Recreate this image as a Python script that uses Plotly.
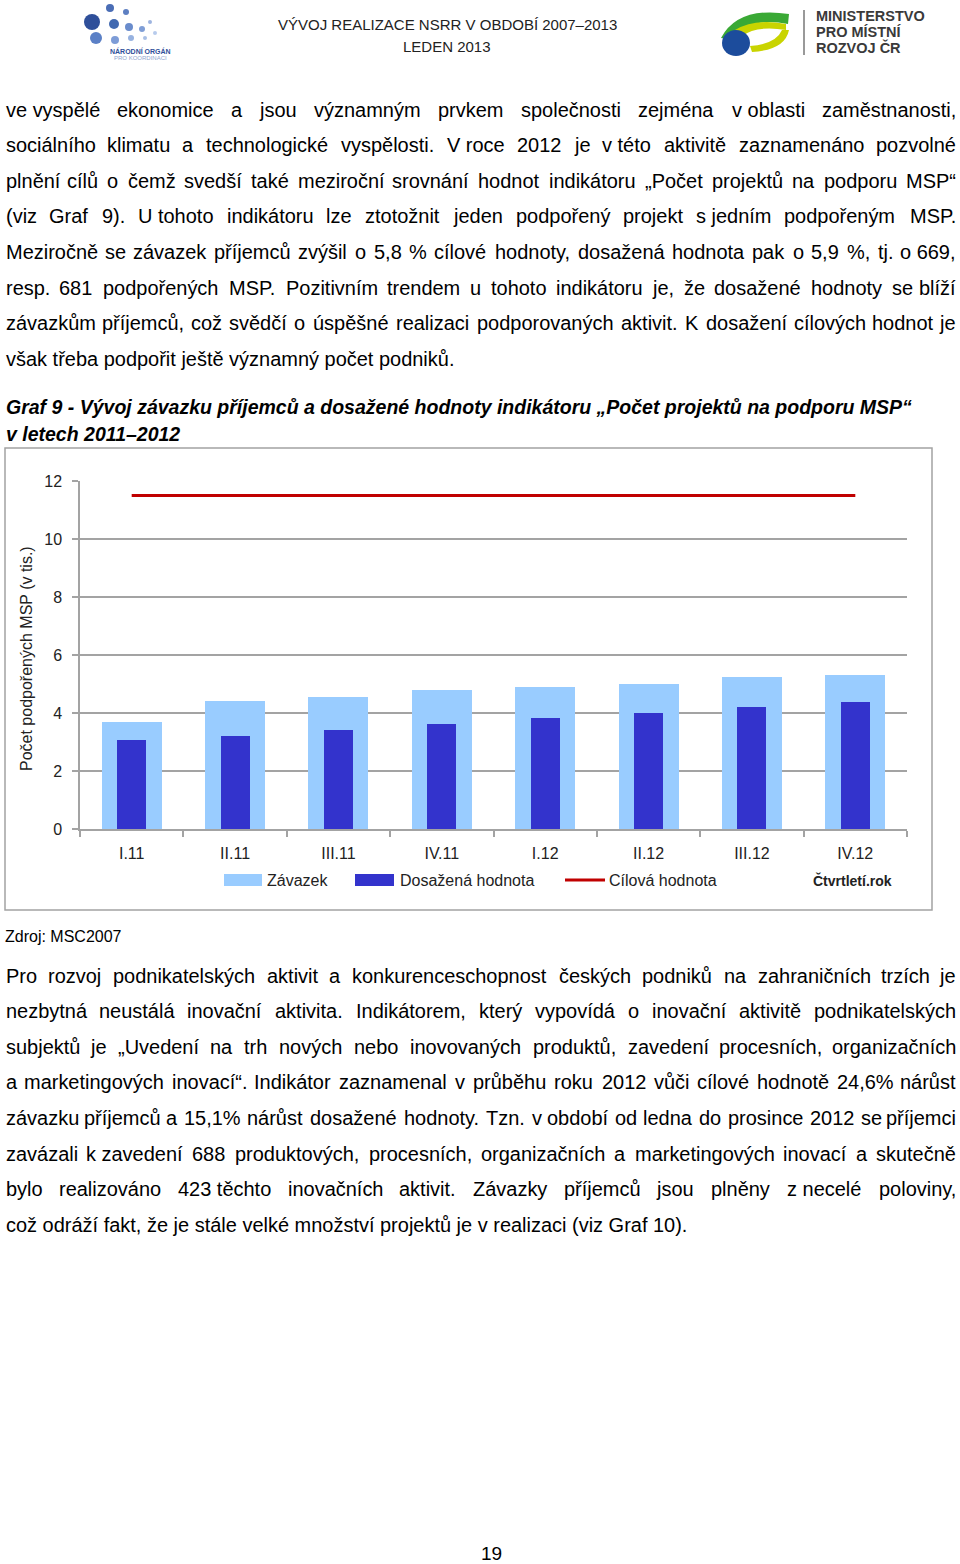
import unicodedata
import plotly.graph_objects as go

# ---------------- data ----------------
kategorie = ["I.11", "II.11", "III.11", "IV.11", "I.12", "II.12", "III.12", "IV.12"]
zavazek = [3.71, 4.41, 4.57, 4.79, 4.91, 5.02, 5.25, 5.33]
dosazena = [3.06, 3.23, 3.42, 3.63, 3.84, 4.02, 4.23, 4.38]
cilova = [11.5, 11.5, 11.5, 11.5, 11.5, 11.5, 11.5, 11.5]
y_ticks = [0, 2, 4, 6, 8, 10, 12]
nazvy_rad = ["Závazek", "Dosažená hodnota", "Cílová hodnota"]

odstavec1 = [
    "ve\u00a0vyspělé ekonomice a jsou významným prvkem společnosti zejména v\u00a0oblasti zaměstnanosti,",
    "sociálního klimatu a technologické vyspělosti. V\u00a0roce 2012 je v\u00a0této aktivitě zaznamenáno pozvolné",
    "plnění cílů o čemž svedší také meziroční srovnání hodnot indikátoru „Počet projektů na podporu MSP“",
    "(viz Graf 9). U\u00a0tohoto indikátoru lze ztotožnit jeden podpořený projekt s\u00a0jedním podpořeným MSP.",
    "Meziročně se závazek příjemců zvýšil o 5,8 % cílové hodnoty, dosažená hodnota pak o 5,9 %, tj. o\u00a0669,",
    "resp. 681 podpořených MSP. Pozitivním trendem u tohoto indikátoru je, že dosažené hodnoty se blíží",
    "závazkům příjemců, což svědčí o úspěšné realizaci podporovaných aktivit. K dosažení cílových hodnot je",
    "však třeba podpořit ještě významný počet podniků.",
]
odstavec2 = [
    "Pro rozvoj podnikatelských aktivit a konkurenceschopnost českých podniků na zahraničních trzích je",
    "nezbytná neustálá inovační aktivita. Indikátorem, který vypovídá o inovační aktivitě podnikatelských",
    "subjektů je „Uvedení na trh nových nebo inovovaných produktů, zavedení procesních, organizačních",
    "a marketingových inovací“. Indikátor zaznamenal v průběhu roku 2012 vůči cílové hodnotě 24,6% nárůst",
    "závazku příjemců a 15,1% nárůst dosažené hodnoty. Tzn. v období od ledna do prosince 2012 se příjemci",
    "zavázali k\u00a0zavedení 688 produktových, procesních, organizačních a marketingových inovací a skutečně",
    "bylo realizováno 423\u00a0těchto inovačních aktivit. Závazky příjemců jsou plněny z\u00a0necelé poloviny,",
    "což odráží fakt, že je stále velké množství projektů je v realizaci (viz Graf 10).",
]

# ---------------- page geometry helpers ----------------
W, H = 960, 1564
FONT = "Liberation Sans, Arial, sans-serif"


def px(x):
    return x / W


def py(y):
    return 1 - y / H


# Arial / Liberation Sans advance widths (per 1000 em)
AW = {' ': 278, '\u00a0': 278, 'a': 556, 'b': 556, 'c': 500, 'd': 556, 'e': 556, 'f': 278, 'g': 556,
      'h': 556, 'i': 222, 'j': 222, 'k': 500, 'l': 222, 'm': 833, 'n': 556, 'o': 556, 'p': 556,
      'q': 556, 'r': 333, 's': 500, 't': 278, 'u': 556, 'v': 500, 'w': 722, 'x': 500, 'y': 500,
      'z': 500, '.': 278, ',': 278, '(': 333, ')': 333, '%': 889, '„': 333, '“': 333, ':': 278,
      '-': 333, '–': 556, 'A': 667, 'B': 667, 'C': 722, 'D': 722, 'E': 667, 'F': 611, 'G': 778,
      'H': 722, 'I': 278, 'J': 500, 'K': 667, 'L': 556, 'M': 833, 'N': 722, 'O': 778, 'P': 667,
      'Q': 778, 'R': 722, 'S': 667, 'T': 611, 'U': 722, 'V': 667, 'W': 944, 'X': 667, 'Y': 667,
      'Z': 611}


def em_width(s):
    tot = 0
    for ch in s:
        if ch.isdigit():
            tot += 556
            continue
        base = unicodedata.normalize('NFD', ch)[0]
        tot += AW.get(base, 556)
    return tot / 1000.0


LEFT, RIGHT = 5, 957
annotations = []
shapes = []


def text(x, y, s, size, anchor="left", color="#000000", bold=False, italic=False, angle=0):
    t = s
    if bold:
        t = "<b>" + t + "</b>"
    if italic:
        t = "<i>" + t + "</i>"
    annotations.append(dict(x=px(x), y=py(y), xref="paper", yref="paper", text=t, showarrow=False,
                            xanchor=anchor, yanchor="middle", borderpad=0, textangle=angle,
                            font=dict(family=FONT, size=size, color=color)))


# body font size so that every justified line fits
all_just = odstavec1[:-1] + odstavec2[:-1]
fs_body = 20.0
for ln in all_just:
    nat = em_width(ln)
    nwords = len(ln.split(' '))
    need = (RIGHT - LEFT) / (nat + 0.05 * (nwords - 1))
    fs_body = min(fs_body, need)


def line(s, y, justify=True, size=None):
    size = size or fs_body
    words = s.split(' ')
    if not justify or len(words) == 1:
        text(LEFT, y, s, size)
        return
    widths = [em_width(w) * size for w in words]
    gap = (RIGHT - LEFT - sum(widths)) / (len(words) - 1)
    x = LEFT
    for i, (w, wd) in enumerate(zip(words, widths)):
        if i == 0:
            text(LEFT, y, w, size, "left")
        elif i == len(words) - 1:
            text(RIGHT, y, w, size, "right")
        else:
            text(x + wd / 2, y, w, size, "center")
        x += wd + gap


# ---------------- header ----------------
text(447, 24, "VÝVOJ REALIZACE NSRR V OBDOBÍ 2007–2013", 15, "center", "#222222")
text(447, 47, "LEDEN 2013", 15, "center", "#222222")

# left logo (dots)
dots = [(92, 22, 8, "#2f4f9a"), (110, 8, 4, "#4a6db5"), (126, 12, 3, "#5d7fc2"),
        (114, 24, 5, "#4169b0"), (129, 27, 4, "#6a8ccc"), (142, 29, 3, "#7f9ed6"),
        (96, 38, 6, "#5b80c6"), (115, 40, 4, "#7d9cd7"), (131, 38, 3, "#97b2e0"),
        (145, 38, 2, "#a9c0e6"), (155, 33, 2, "#b7cbec"), (150, 22, 2, "#9db4e0")]
for (cx, cy, r, c) in dots:
    shapes.append(dict(type="circle", xref="paper", yref="paper", x0=px(cx - r), x1=px(cx + r),
                       y0=py(cy + r), y1=py(cy - r), fillcolor=c, line=dict(width=0)))
text(140, 51, "NÁRODNÍ ORGÁN", 7, "center", "#2f4f9a", bold=True)
text(140, 58, "PRO KOORDINACI", 6, "center", "#8fa6cf")

# right logo (MMR)
shapes.append(dict(type="path", xref="paper", yref="paper",
                   path="M {0},{1} Q {2},{3} {4},{5} L {6},{7} Q {8},{9} {10},{11} Z".format(
                       px(721), py(38), px(738), py(6), px(789), py(14), px(788), py(24),
                       px(748), py(16), px(733), py(40)),
                   fillcolor="#3aa935", line=dict(width=0)))
shapes.append(dict(type="path", xref="paper", yref="paper",
                   path="M {0},{1} Q {2},{3} {4},{5} L {6},{7} Q {8},{9} {10},{11} Z".format(
                       px(735), py(30), px(755), py(18), px(786), py(24), px(786), py(30),
                       px(757), py(25), px(742), py(36)),
                   fillcolor="#c9d400", line=dict(width=0)))
shapes.append(dict(type="circle", xref="paper", yref="paper", x0=px(722), x1=px(750),
                   y0=py(56), y1=py(30), fillcolor="#1c4c9c", line=dict(width=0)))
shapes.append(dict(type="path", xref="paper", yref="paper",
                   path="M {0},{1} Q {2},{3} {4},{5} L {6},{7} Q {8},{9} {10},{11} Z".format(
                       px(752), py(52), px(785), py(50), px(789), py(30), px(782), py(30),
                       px(776), py(44), px(750), py(46)),
                   fillcolor="#c9d400", line=dict(width=0)))
shapes.append(dict(type="line", xref="paper", yref="paper", x0=px(804), x1=px(804), y0=py(10),
                   y1=py(55), line=dict(color="#555555", width=1.2)))
text(815, 16, "MINISTERSTVO", 14.5, "left", "#3a3a3a", bold=True)
text(815, 32, "PRO MÍSTNÍ", 14.5, "left", "#3a3a3a", bold=True)
text(815, 48, "ROZVOJ ČR", 14.5, "left", "#3a3a3a", bold=True)

# ---------------- body text ----------------
y1 = [110, 145, 181, 216, 252, 288, 323, 359]
for i, s in enumerate(odstavec1):
    line(s, y1[i], justify=(i < len(odstavec1) - 1))

text(LEFT, 407, "Graf 9 - Vývoj závazku příjemců a dosažené hodnoty indikátoru „Počet projektů na podporu MSP“",
     19.5, "left", "#000000", bold=True, italic=True)
text(LEFT, 434, "v letech 2011–2012", 19.5, "left", "#000000", bold=True, italic=True)

text(4, 936, "Zdroj: MSC2007", 16, "left")

y2 = [976, 1011, 1047, 1082, 1118, 1154, 1189, 1225]
for i, s in enumerate(odstavec2):
    line(s, y2[i], justify=(i < len(odstavec2) - 1))

text(492, 1553, "19", 19, "center")

# ---------------- chart ----------------
GRID = "#a3a3a3"
shapes.append(dict(type="rect", xref="paper", yref="paper", x0=px(5), x1=px(932), y0=py(910),
                   y1=py(448), line=dict(color=GRID, width=1.5), fillcolor="rgba(0,0,0,0)",
                   layer="below"))

fig = go.Figure()
fig.add_trace(go.Bar(x=kategorie, y=zavazek, name=nazvy_rad[0],
                     marker=dict(color="#99ccff", line=dict(width=0)), width=0.58, showlegend=False))
fig.add_trace(go.Bar(x=kategorie, y=dosazena, name=nazvy_rad[1],
                     marker=dict(color="#3333cc", line=dict(width=0)), width=0.28, showlegend=False))
fig.add_trace(go.Scatter(x=kategorie, y=cilova, name=nazvy_rad[2], mode="lines",
                         line=dict(color="#c00000", width=3), showlegend=False))

# y-axis title & x-axis title
text(27, 659, "Počet podpořených MSP (v tis.)", 16, "center", "#222222", angle=-90)
text(852, 880, "Čtvrtletí.rok", 14, "center", "#222222", bold=True)

# manual legend
shapes.append(dict(type="rect", xref="paper", yref="paper", x0=px(224), x1=px(262), y0=py(886),
                   y1=py(874), fillcolor="#99ccff", line=dict(width=0)))
text(266, 880, nazvy_rad[0], 16, "left", "#222222")
shapes.append(dict(type="rect", xref="paper", yref="paper", x0=px(355), x1=px(394), y0=py(886),
                   y1=py(874), fillcolor="#3333cc", line=dict(width=0)))
text(399, 880, nazvy_rad[1], 16, "left", "#222222")
shapes.append(dict(type="line", xref="paper", yref="paper", x0=px(565), x1=px(605), y0=py(880),
                   y1=py(880), line=dict(color="#c00000", width=3)))
text(608, 880, nazvy_rad[2], 16, "left", "#222222")

fig.update_layout(
    width=W, height=H, autosize=False,
    margin=dict(l=0, r=0, t=0, b=0, pad=0),
    paper_bgcolor="white", plot_bgcolor="white",
    barmode="overlay", bargap=0,
    annotations=annotations, shapes=shapes,
    font=dict(family=FONT, size=16, color="#222222"),
    xaxis=dict(domain=[px(80), px(907)], type="category", showgrid=False, showline=True,
               linecolor=GRID, linewidth=1.5, ticks="outside", tickson="boundaries", ticklen=6,
               tickcolor=GRID, tickwidth=1.5, tickfont=dict(size=16, color="#222222"),
               ticklabelstandoff=9, fixedrange=True, zeroline=False, automargin=False),
    yaxis=dict(domain=[py(829.3), py(481)], range=[0, 12], tickvals=y_ticks, showgrid=True,
               gridcolor=GRID, gridwidth=1.5, showline=True, linecolor=GRID, linewidth=1.5,
               ticks="outside", ticklen=6, tickcolor=GRID, tickwidth=1.5,
               tickfont=dict(size=16, color="#222222"), ticklabelstandoff=7, zeroline=False,
               fixedrange=True, automargin=False),
)

fig.write_html(
    "out.html",
    config={"displayModeBar": False},
    post_script="document.body.style.margin='0px';document.body.style.padding='0px';"
                "document.documentElement.style.overflow='hidden';",
)
